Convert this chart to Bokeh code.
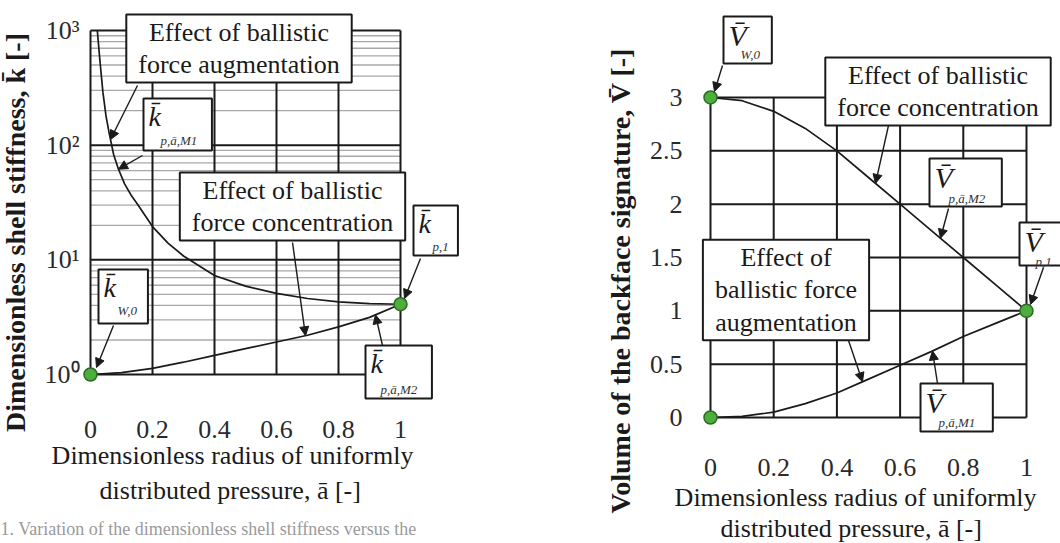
import numpy as np
from bokeh.plotting import figure
from bokeh.layouts import row
from bokeh.models import Label, Arrow, NormalHead, FixedTicker
from bokeh.embed import file_html
from bokeh.resources import INLINE

FONT = "Liberation Serif"
INK = "#1a1a1a"

# ---------------- data: left panel (dimensionless shell stiffness) ----------------
a_k_m1 = [0.022, 0.03, 0.04, 0.05, 0.06, 0.075, 0.09, 0.11, 0.13, 0.15, 0.2, 0.25,
          0.3, 0.4, 0.5, 0.6, 0.7, 0.8, 0.9, 1.0]
k_m1 = [1000, 560, 290, 180, 128, 82, 62, 46, 37, 31, 19.5, 14, 10.8, 7.3, 5.9, 5.1,
        4.6, 4.3, 4.15, 4.1]
a_k_m2 = [0.0, 0.1, 0.2, 0.3, 0.4, 0.5, 0.6, 0.7, 0.8, 0.9, 1.0]
k_m2 = [1.0, 1.04, 1.13, 1.28, 1.47, 1.68, 1.92, 2.2, 2.6, 3.15, 4.1]
k_pts_a = [0.0, 1.0]
k_pts = [1.0, 4.1]

# ---------------- data: right panel (backface signature volume) ----------------
a_v = [0.0, 0.1, 0.2, 0.3, 0.4, 0.5, 0.6, 0.7, 0.8, 0.9, 1.0]
v_m2 = [3.0, 2.97, 2.87, 2.71, 2.5, 2.25, 2.0, 1.75, 1.5, 1.25, 1.0]
v_m1 = [0.0, 0.01, 0.05, 0.13, 0.23, 0.36, 0.49, 0.62, 0.76, 0.88, 1.0]
v_pts_a = [0.0, 0.0, 1.0]
v_pts = [3.0, 0.0, 1.0]

# ---------------- ticks ----------------
x_ticks = [0, 0.2, 0.4, 0.6, 0.8, 1]
x_tick_labels = ["0", "0.2", "0.4", "0.6", "0.8", "1"]
k_ticks = [1, 10, 100, 1000]
k_tick_labels = ["10\u2070", "10\u00b9", "10\u00b2", "10\u00b3"]
k_minor = [m * 10 ** e for e in range(3) for m in range(2, 10)]
v_ticks = [0, 0.5, 1, 1.5, 2, 2.5, 3]
v_tick_labels = ["0", "0.5", "1", "1.5", "2", "2.5", "3"]


# pixel helpers for annotation placement (page pixels -> data)
def lx(px):
    return (px - 90) / 310.0


def ly(py):
    return 10 ** ((374 - py) / 114.67)


def rx(px):
    return (px - 710) / 316.0


def ry(py):
    return (417 - py) / 106.67


def base_fig(xr, yr, ytype):
    p = figure(width=530, height=543, x_range=xr, y_range=yr, y_axis_type=ytype,
               output_backend="svg", toolbar_location=None,
               min_border_left=0, min_border_right=0, min_border_top=0, min_border_bottom=0)
    p.grid.visible = False
    p.outline_line_color = None
    for ax in (p.xaxis[0], p.yaxis[0]):
        ax.axis_line_color = None
        ax.major_tick_line_color = None
        ax.minor_tick_line_color = None
        ax.major_label_text_font = FONT
        ax.major_label_text_font_size = "26px"
        ax.major_label_text_color = "#2a2a2a"
    p.xaxis.ticker = FixedTicker(ticks=x_ticks)
    p.xaxis.major_label_overrides = dict(zip(x_ticks, x_tick_labels))
    return p


def title_text(p, x, y, text, size, bold=False, angle=0.0):
    p.add_layout(Label(x=x, y=y, text=text, angle=angle, text_align="center",
                       text_baseline="middle", text_font=FONT, text_font_size=f"{size}px",
                       text_font_style="bold" if bold else "normal", text_color=INK))


def effect_box(p, x, y, text):
    p.add_layout(Label(x=x, y=y, text=text, anchor="center", text_align="center",
                       text_baseline="middle", text_font=FONT, text_font_size="26px",
                       text_color=INK, text_line_height=1.13,
                       padding=dict(left=12, right=12, top=3, bottom=3),
                       background_fill_color="white", border_line_color=INK, border_line_width=2))


def sym_box(p, x, y, main, sub, w, h, fs, main_w, sdx, sdy):
    pl, pt = 5, 2
    pr = max(0, int(w - pl - main_w))
    pb = max(0, int(h - pt - fs * 1.15))
    p.add_layout(Label(x=x, y=y, text=main, anchor="top_left", text_align="left",
                       text_baseline="top", text_font=FONT, text_font_style="italic",
                       text_font_size=f"{fs}px", text_color=INK,
                       padding=dict(left=pl, right=pr, top=pt, bottom=pb),
                       background_fill_color="white", border_line_color=INK,
                       border_line_width=2))
    p.add_layout(Label(x=x, y=y, x_offset=sdx, y_offset=-sdy, text=sub, anchor="top_left",
                       text_align="left", text_baseline="top", text_font=FONT,
                       text_font_style="italic", text_font_size="13px", text_color="#333"))


def arrow(p, x0, y0, x1, y1):
    p.add_layout(Arrow(x_start=x0, y_start=y0, x_end=x1, y_end=y1, line_color=INK,
                       line_width=1.4,
                       end=NormalHead(size=9, fill_color=INK, line_color=INK, line_width=1)))


# ====================== left panel ======================
p1 = base_fig((lx(0), lx(530)), (ly(543), ly(0)), "log")
p1.yaxis.ticker = FixedTicker(ticks=k_ticks)
p1.yaxis.major_label_overrides = dict(zip(k_ticks, k_tick_labels))
p1.xaxis.fixed_location = min(k_ticks)
p1.yaxis.fixed_location = min(x_ticks)
p1.yaxis.major_label_standoff = 5
p1.xaxis.major_label_standoff = 40

kmin, kmax = min(k_ticks), max(k_ticks)
p1.segment(x0=0, y0=k_minor, x1=1, y1=k_minor, line_color="#a8a8a8", line_width=1.3)
p1.segment(x0=0, y0=k_ticks, x1=1, y1=k_ticks, line_color=INK, line_width=2)
p1.segment(x0=x_ticks, y0=kmin, x1=x_ticks, y1=kmax, line_color=INK, line_width=2)

p1.line(a_k_m1, k_m1, line_color=INK, line_width=1.7)
p1.line(a_k_m2, k_m2, line_color=INK, line_width=1.7)
p1.scatter(k_pts_a, k_pts, size=13, fill_color="#4caf3c", line_color="#2d6a25", line_width=1.5)


def k1_at(a):
    return 10 ** np.interp(a, a_k_m1, np.log10(k_m1))


def k2_at(a):
    return 10 ** np.interp(a, a_k_m2, np.log10(k_m2))


arrow(p1, lx(137), ly(85), lx(110), k1_at(lx(110)))
arrow(p1, lx(142), ly(155), lx(118), k1_at(lx(118)))
arrow(p1, lx(292), ly(242), lx(305), k2_at(lx(305)))
arrow(p1, lx(113), ly(325), lx(96), ly(367))
arrow(p1, lx(420), ly(258), lx(404), ly(298))
arrow(p1, lx(382), ly(345), lx(375), k2_at(lx(375)))

effect_box(p1, lx(238.5), ly(48), "Effect of ballistic\nforce augmentation")
effect_box(p1, lx(292), ly(206), "Effect of ballistic\nforce concentration")
sym_box(p1, lx(143), ly(98), "k\u0304", "p,\u0101,M1", 69, 54, 28, 13, 17, 34)
sym_box(p1, lx(98), ly(269), "k\u0304", "W,0", 50, 56, 28, 13, 19, 33)
sym_box(p1, lx(413), ly(205), "k\u0304", "p,1", 45, 52, 28, 13, 19, 33)
sym_box(p1, lx(365), ly(345), "k\u0304", "p,\u0101,M2", 67, 55, 28, 13, 15, 36)

title_text(p1, lx(15), ly(232), "Dimensionless shell stiffness, k\u0304 [-]", 28, bold=True, angle=np.pi / 2)
title_text(p1, lx(232), ly(455), "Dimensionless radius of uniformly", 26)
title_text(p1, lx(233), ly(490), "distributed pressure, \u0101  [-]", 26)

p1.add_layout(Label(x=lx(0), y=ly(528), text="1. Variation of the dimensionless shell stiffness versus the",
                    text_font=FONT, text_font_size="18px", text_color="#9a9a9a",
                    text_align="left", text_baseline="middle"))

# ====================== right panel ======================
p2 = base_fig((rx(530), rx(1060)), (ry(543), ry(0)), "linear")
p2.yaxis.ticker = FixedTicker(ticks=v_ticks)
p2.yaxis.major_label_overrides = dict(zip(v_ticks, v_tick_labels))
p2.xaxis.fixed_location = min(v_ticks)
p2.yaxis.fixed_location = min(x_ticks)
p2.yaxis.major_label_standoff = 22
p2.xaxis.major_label_standoff = 35

vmin, vmax = min(v_ticks), max(v_ticks)
p2.segment(x0=0, y0=v_ticks, x1=1, y1=v_ticks, line_color=INK, line_width=2)
p2.segment(x0=x_ticks, y0=vmin, x1=x_ticks, y1=vmax, line_color=INK, line_width=2)

p2.line(a_v, v_m2, line_color=INK, line_width=1.7)
p2.line(a_v, v_m1, line_color=INK, line_width=1.7)
p2.scatter(v_pts_a, v_pts, size=13, fill_color="#4caf3c", line_color="#2d6a25", line_width=1.5)


def v2_at(a):
    return float(np.interp(a, a_v, v_m2))


def v1_at(a):
    return float(np.interp(a, a_v, v_m1))


arrow(p2, rx(722), ry(65), rx(714), ry(91))
arrow(p2, rx(888), ry(125), rx(875), v2_at(rx(875)))
arrow(p2, rx(948), ry(208), rx(940), v2_at(rx(940)))
arrow(p2, rx(1043), ry(267), rx(1030), ry(304))
arrow(p2, rx(847), ry(337), rx(862), v1_at(rx(862)))
arrow(p2, rx(937), ry(383), rx(932), v1_at(rx(932)))

effect_box(p2, rx(937.5), ry(91), "Effect of ballistic\nforce concentration")
effect_box(p2, rx(785.5), ry(289.5), "Effect of\nballistic force\naugmentation")
sym_box(p2, rx(723), ry(16), "V\u0304", "W,0", 49, 49, 30, 19, 17, 30)
sym_box(p2, rx(929), ry(158), "V\u0304", "p,\u0101,M2", 73, 50, 30, 19, 19, 32)
sym_box(p2, rx(1019), ry(222), "V\u0304", "p,1", 46, 45, 30, 19, 16, 31)
sym_box(p2, rx(920), ry(383), "V\u0304", "p,\u0101,M1", 73, 50, 30, 19, 18, 31)

title_text(p2, rx(620), ry(280), "Volume of the backface signature, V\u0304 [-]", 28, bold=True, angle=np.pi / 2)
title_text(p2, rx(855), ry(497), "Dimensionless radius of uniformly", 26)
title_text(p2, rx(854), ry(528), "distributed pressure, \u0101  [-]", 26)

layout = row(p1, p2)
open("out.html", "w").write(file_html(layout, INLINE))
